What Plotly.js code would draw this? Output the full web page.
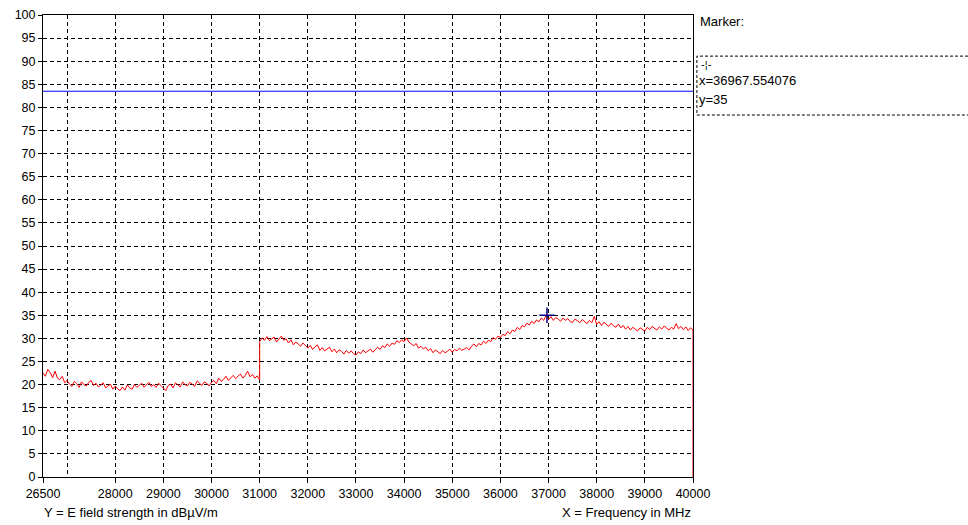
<!DOCTYPE html>
<html>
<head>
<meta charset="utf-8">
<script src="https://cdn.plot.ly/plotly-3.0.1.min.js"></script>
<style>html,body{margin:0;padding:0;background:#fff;}#chart{width:968px;height:525px;}</style>
</head>
<body>
<div id="chart"></div>
<script>
// Sweep segment 1: 26500 .. 31000 MHz, 50 MHz steps (dBµV/m)
const seg1Start = 26500, seg1Step = 50;
const seg1Values = [
22.5,21.8,23.3,22.6,21.5,22.9,21.4,21.1,21.8,20.4,
20.9,20.1,19.6,20.7,20.2,19.4,20.6,20.0,19.7,20.5,
20.9,19.8,20.3,19.5,19.9,20.4,19.3,19.8,20.1,19.0,
19.7,19.1,18.7,19.5,18.8,19.9,19.3,19.0,20.0,19.4,
19.8,20.3,19.4,19.9,20.5,19.6,20.0,19.4,20.3,19.8,
19.3,18.7,19.8,20.1,19.3,20.4,19.9,19.5,20.6,20.0,
19.7,20.5,20.1,19.6,20.8,20.2,19.8,20.6,20.3,19.7,
20.5,20.9,20.2,21.4,20.7,21.1,21.8,20.9,21.5,22.0,
21.3,21.8,22.3,21.4,22.0,22.9,21.7,22.2,21.4,21.9,
21.0
];
// Sweep segment 2: 31000 .. 40000 MHz, 50 MHz steps (dBµV/m)
const seg2Start = 31000, seg2Step = 50;
const seg2Values = [
29.3,30.1,29.6,30.4,29.5,29.9,30.3,29.2,29.8,30.5,
29.6,29.9,29.0,29.7,28.6,29.2,28.8,28.3,29.0,28.4,
27.9,28.5,27.6,28.2,28.6,27.4,28.0,27.3,27.8,28.1,
27.1,27.7,26.9,27.5,27.2,26.6,27.4,26.8,27.3,26.7,
26.4,27.1,26.7,27.5,26.9,27.3,27.7,27.0,27.6,28.1,
27.6,28.4,28.0,28.8,28.3,29.0,28.7,29.5,29.1,29.7,
29.3,30.1,29.2,28.8,28.4,28.9,27.9,28.3,27.7,28.1,
27.3,27.8,26.9,27.5,27.1,26.7,27.4,26.9,27.2,27.7,
27.0,27.6,27.3,27.9,27.4,27.7,28.0,27.5,28.3,28.8,
28.2,28.9,28.6,29.4,28.9,29.6,29.3,30.2,29.8,30.5,
30.2,30.9,30.6,31.5,31.0,31.8,31.5,32.4,31.9,32.8,
32.5,33.3,32.9,33.7,33.2,34.0,33.6,34.4,33.9,35.0,
34.1,34.7,33.9,34.5,34.2,33.7,34.4,33.9,34.3,33.6,
33.5,34.2,33.8,33.4,34.1,33.6,33.2,33.9,33.4,34.8,
33.0,33.6,32.8,33.5,33.1,32.6,33.3,32.7,32.4,33.1,
32.3,32.8,32.0,32.6,31.8,32.4,32.0,31.6,32.3,31.9,
31.6,32.4,31.9,32.6,32.1,31.8,32.5,32.0,32.7,32.2,
31.8,32.4,32.0,33.2,32.1,32.6,31.9,32.5,31.7,32.3,
31.8
];
// End of sweep: trace drops to 0 at the last frequency
const endFreq = [40000];
const endValue = [0];

// Limit line and marker
const limitFreq = [26500, 40000];
const limitValue = [83.5, 83.5];
const markerFreq = [36967.554076];
const markerValue = [35];

// Axis ticks
const xTickVals = [26500, 28000, 29000, 30000, 31000, 32000, 33000, 34000, 35000, 36000, 37000, 38000, 39000, 40000];
const yTickVals = [0,5,10,15,20,25,30,35,40,45,50,55,60,65,70,75,80,85,90,95,100];

const xs = [], ys = [];
seg1Values.forEach((v, i) => { xs.push(seg1Start + i * seg1Step); ys.push(v); });
seg2Values.forEach((v, i) => { xs.push(seg2Start + i * seg2Step); ys.push(v); });
endFreq.forEach((f, i) => { xs.push(f); ys.push(endValue[i]); });

const fam = '"Liberation Sans", Arial, sans-serif';
const tickFont = {family: fam, size: 12.5, color: '#000'};
const font = {family: fam, size: 13, color: '#000'};
const gridDash = '4px,3px';

const data = [
  {x: limitFreq, y: limitValue, type: 'scatter', mode: 'lines', line: {color: '#0000ff', width: 1}, hoverinfo: 'skip'},
  {x: xs, y: ys, type: 'scatter', mode: 'lines', line: {color: '#ff0000', width: 1}, hoverinfo: 'skip', cliponaxis: false},
  {x: markerFreq, y: markerValue, type: 'scatter', mode: 'markers',
   marker: {symbol: 'cross-thin', size: 11, line: {color: '#000080', width: 1.5}, color: '#000080'}, hoverinfo: 'skip'}
];

const layout = {
  width: 968, height: 525,
  margin: {l: 43, r: 275, t: 15, b: 48, pad: 0},
  paper_bgcolor: '#fff', plot_bgcolor: '#fff',
  showlegend: false,
  font: font,
  xaxis: {
    range: [26500, 40000], tickmode: 'array', tickvals: xTickVals, ticktext: xTickVals.map(String),
    showgrid: true, gridcolor: '#000', gridwidth: 1, griddash: gridDash,
    minor: {tickmode: 'linear', tick0: 27000, dtick: 1000, showgrid: true, gridcolor: '#000', gridwidth: 1, griddash: gridDash, ticks: ''},
    zeroline: false, showline: true, linecolor: '#000', linewidth: 1, mirror: true,
    ticks: 'outside', ticklen: 5, tickcolor: '#000', tickwidth: 1, tickfont: tickFont, fixedrange: true
  },
  yaxis: {
    range: [0, 100], tickmode: 'array', tickvals: yTickVals, ticktext: yTickVals.map(String),
    showgrid: true, gridcolor: '#000', gridwidth: 1, griddash: gridDash,
    zeroline: false, showline: true, linecolor: '#000', linewidth: 1, mirror: true,
    ticks: 'outside', ticklen: 4, tickcolor: '#000', tickwidth: 1, tickfont: tickFont, fixedrange: true
  },
  shapes: [
    {type: 'rect', xref: 'paper', yref: 'paper', x0: 1.006, x1: 1.5, y0: 0.7835, y1: 0.911,
     line: {color: '#000', width: 1, dash: '3px,2px'}, fillcolor: 'rgba(0,0,0,0)'}
  ],
  annotations: [
    {xref: 'paper', yref: 'paper', x: 1.008, y: 0.985, xanchor: 'left', yanchor: 'middle', text: 'Marker:', showarrow: false, font: font},
    {xref: 'paper', yref: 'paper', x: 1.0085, y: 0.893, xanchor: 'left', yanchor: 'middle', text: '-¦-', showarrow: false, font: {family: '"DejaVu Sans", sans-serif', size: 10, color: '#000'}},
    {xref: 'paper', yref: 'paper', x: 1.0065, y: 0.859, xanchor: 'left', yanchor: 'middle', text: 'x=36967.554076', showarrow: false, font: font},
    {xref: 'paper', yref: 'paper', x: 1.0065, y: 0.818, xanchor: 'left', yanchor: 'middle', text: 'y=35', showarrow: false, font: font},
    {xref: 'paper', yref: 'paper', x: 0.1354, y: -0.0758, xanchor: 'center', yanchor: 'middle', text: 'Y = E field strength in dBµV/m', showarrow: false, font: font},
    {xref: 'paper', yref: 'paper', x: 1.0, y: -0.0758, xanchor: 'right', yanchor: 'middle', text: 'X = Frequency in MHz', showarrow: false, font: font}
  ]
};

Plotly.newPlot('chart', data, layout, {staticPlot: true, displayModeBar: false});
</script>
</body>
</html>
